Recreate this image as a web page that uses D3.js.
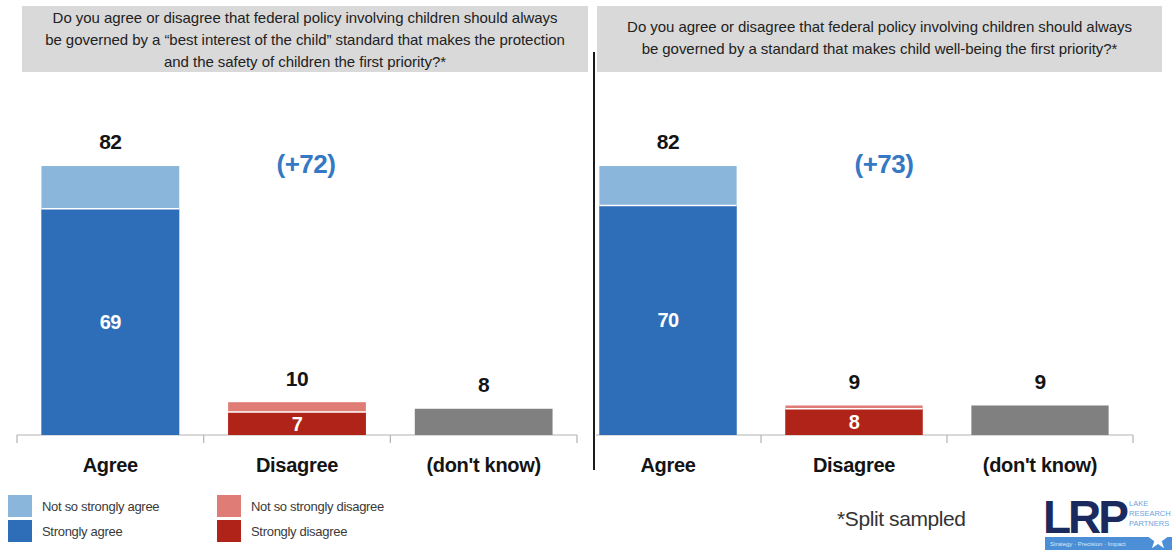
<!DOCTYPE html>
<html>
<head>
<meta charset="utf-8">
<script src="https://cdn.jsdelivr.net/npm/d3@7"></script>
<style>
  html, body { margin: 0; padding: 0; background: #fff; }
  svg { display: block; font-family: "Liberation Sans", Arial, sans-serif; }
</style>
</head>
<body>
<svg id="chart" width="1172" height="550"></svg>
<script>
// ---- Data ----
const categories = ["Agree", "Disagree", "(don't know)"];
const panelTitles = [
  ["Do you agree or disagree that federal policy involving children should  always",
   "be governed by a \u201cbest interest of the child\u201d standard that makes the protection",
   "and the safety of children the first priority?*"],
  ["Do you agree or disagree that federal policy involving children should  always",
   "be governed by a standard that makes child well-being the first priority?*"]
];
// strong / total per category, per panel
const strongValues = [[69, 7, 8], [70, 8, 9]];
const totalValues  = [[82, 10, 8], [82, 9, 9]];
const netLabels = ["(+72)", "(+73)"];
const legendLabels = ["Not so strongly agree", "Strongly agree", "Not so strongly disagree", "Strongly disagree"];
const footnote = "*Split sampled";

// ---- Styles ----
const colStrong = ["#2e6db8", "#b02318", "#808080"];
const colSoft   = ["#8bb6dc", "#e07c76", "#808080"];
const blueText = "#3578c4";

const svg = d3.select("#chart");

const panels = [
  { box: [22, 588], range: [17, 577], titleY: [18, 40, 62] },
  { box: [597, 1162], range: [575, 1133], titleY: [27, 49] }
];

const y = d3.scaleLinear().domain([0, 100]).range([435, 107]);
const baseY = y(0);

panels.forEach((p, pi) => {
  const g = svg.append("g");
  // title box
  g.append("rect")
    .attr("x", p.box[0]).attr("y", 6)
    .attr("width", p.box[1] - p.box[0]).attr("height", 66)
    .attr("fill", "#d9d9d9");
  const cx = (p.box[0] + p.box[1]) / 2;
  panelTitles[pi].forEach((line, li) => {
    g.append("text")
      .attr("x", cx).attr("y", p.titleY[li])
      .attr("dy", "0.35em")
      .attr("text-anchor", "middle")
      .attr("font-size", 15)
      .attr("letter-spacing", -0.05)
      .attr("fill", "#222")
      .text(line);
  });

  const x = d3.scaleBand().domain(categories).range(p.range)
    .paddingInner(0.262).paddingOuter(0.131);

  // axis
  const axisG = g.append("g").attr("transform", `translate(0,${baseY})`)
    .call(d3.axisBottom(x).tickSize(0).tickFormat(""));
  axisG.select(".domain").attr("stroke", "#b3b3b3").attr("stroke-width", 1.2)
    .attr("d", `M${pi === 1 ? 596 : p.range[0]},0H${p.range[1]}`);
  const bounds = categories.map(c => x(c) - x.step() * x.paddingOuter())
    .concat([p.range[1]]).filter(b => pi === 0 || b > 590);
  g.selectAll(".btick").data(bounds).enter().append("line")
    .attr("x1", d => d).attr("x2", d => d)
    .attr("y1", baseY).attr("y2", baseY + 8)
    .attr("stroke", "#b3b3b3").attr("stroke-width", 1.2);

  // category labels
  g.selectAll(".cat").data(categories).enter().append("text")
    .attr("x", d => x(d) + x.bandwidth() / 2)
    .attr("y", 465).attr("dy", "0.35em")
    .attr("text-anchor", "middle")
    .attr("font-size", 20).attr("font-weight", "bold")
    .attr("letter-spacing", -0.3)
    .attr("fill", "#141414")
    .text(d => d);

  const rows = categories.map((c, i) => ({
    c, i, strong: strongValues[pi][i], total: totalValues[pi][i]
  }));

  // soft (total) bars
  g.selectAll(".soft").data(rows).enter().append("rect")
    .attr("x", d => x(d.c)).attr("width", x.bandwidth())
    .attr("y", d => y(d.total)).attr("height", d => baseY - y(d.total))
    .attr("fill", d => colSoft[d.i]);
  // strong bars
  g.selectAll(".strong").data(rows.filter(d => d.i < 2)).enter().append("rect")
    .attr("x", d => x(d.c)).attr("width", x.bandwidth())
    .attr("y", d => y(d.strong)).attr("height", d => baseY - y(d.strong))
    .attr("fill", d => colStrong[d.i]);
  // separator line between segments
  g.selectAll(".sep").data(rows.filter(d => d.i < 2 && d.total > d.strong)).enter().append("line")
    .attr("x1", d => x(d.c)).attr("x2", d => x(d.c) + x.bandwidth())
    .attr("y1", d => y(d.strong)).attr("y2", d => y(d.strong))
    .attr("stroke", "#fff").attr("stroke-width", 1.5);

  // total labels
  g.selectAll(".tot").data(rows).enter().append("text")
    .attr("x", d => x(d.c) + x.bandwidth() / 2)
    .attr("y", d => y(d.total) - 24).attr("dy", "0.35em")
    .attr("text-anchor", "middle")
    .attr("font-size", 21).attr("font-weight", "bold")
    .attr("letter-spacing", -0.5)
    .attr("fill", "#141414")
    .text(d => d.total);

  // strong labels inside
  g.selectAll(".inn").data(rows.filter(d => d.i < 2)).enter().append("text")
    .attr("x", d => x(d.c) + x.bandwidth() / 2)
    .attr("y", d => (y(d.strong) + baseY) / 2).attr("dy", "0.36em")
    .attr("text-anchor", "middle")
    .attr("font-size", 20).attr("font-weight", "bold")
    .attr("letter-spacing", -0.5)
    .attr("fill", "#fff")
    .text(d => d.strong);

  // net label
  g.append("text")
    .attr("x", x(categories[1]) + x.bandwidth() / 2 + (pi === 0 ? 9 : 30))
    .attr("y", 164).attr("dy", "0.35em")
    .attr("text-anchor", "middle")
    .attr("font-size", 26).attr("font-weight", "bold")
    .attr("letter-spacing", -0.5)
    .attr("fill", blueText)
    .text(netLabels[pi]);
});

// divider
svg.append("line").attr("x1", 594).attr("x2", 594).attr("y1", 52).attr("y2", 470)
  .attr("stroke", "#1a1a1a").attr("stroke-width", 2);

// legend
const legendItems = [
  { x: 8, y: 495, c: colSoft[0], t: legendLabels[0] },
  { x: 8, y: 520, c: colStrong[0], t: legendLabels[1] },
  { x: 217, y: 495, c: colSoft[1], t: legendLabels[2] },
  { x: 217, y: 520, c: colStrong[1], t: legendLabels[3] }
];
const lg = svg.append("g");
lg.selectAll("rect").data(legendItems).enter().append("rect")
  .attr("x", d => d.x).attr("y", d => d.y).attr("width", 24).attr("height", 22)
  .attr("fill", d => d.c);
lg.selectAll("text").data(legendItems).enter().append("text")
  .attr("x", d => d.x + 34).attr("y", d => d.y + 11).attr("dy", "0.35em")
  .attr("font-size", 13).attr("letter-spacing", -0.3).attr("fill", "#3a3a3a")
  .text(d => d.t);

// footnote
svg.append("text").attr("x", 837).attr("y", 519).attr("dy", "0.35em")
  .attr("font-size", 21).attr("letter-spacing", -0.4).attr("fill", "#333")
  .text(footnote);

// logo
const logo = svg.append("g");
logo.append("text").attr("x", 1043).attr("y", 533)
  .attr("font-size", 46).attr("font-weight", "bold").attr("letter-spacing", -3)
  .attr("fill", "#1b2a5e").text("LRP");
["LAKE", "RESEARCH", "PARTNERS"].forEach((t, i) => {
  logo.append("text").attr("x", 1129).attr("y", 506 + i * 10)
    .attr("font-size", 7.5).attr("fill", "#6fa3dc").text(t);
});
logo.append("rect").attr("x", 1045).attr("y", 537).attr("width", 127).attr("height", 13)
  .attr("fill", "#4d8fd6");
logo.append("text").attr("x", 1050).attr("y", 546)
  .attr("font-size", 6).attr("fill", "#dbe9fa").text("Strategy \u00b7 Precision \u00b7 Impact");
logo.append("path")
  .attr("d", d3.symbol().type(d3.symbolStar).size(120)())
  .attr("transform", "translate(1158,540)")
  .attr("fill", "#fff");
</script>
</body>
</html>
